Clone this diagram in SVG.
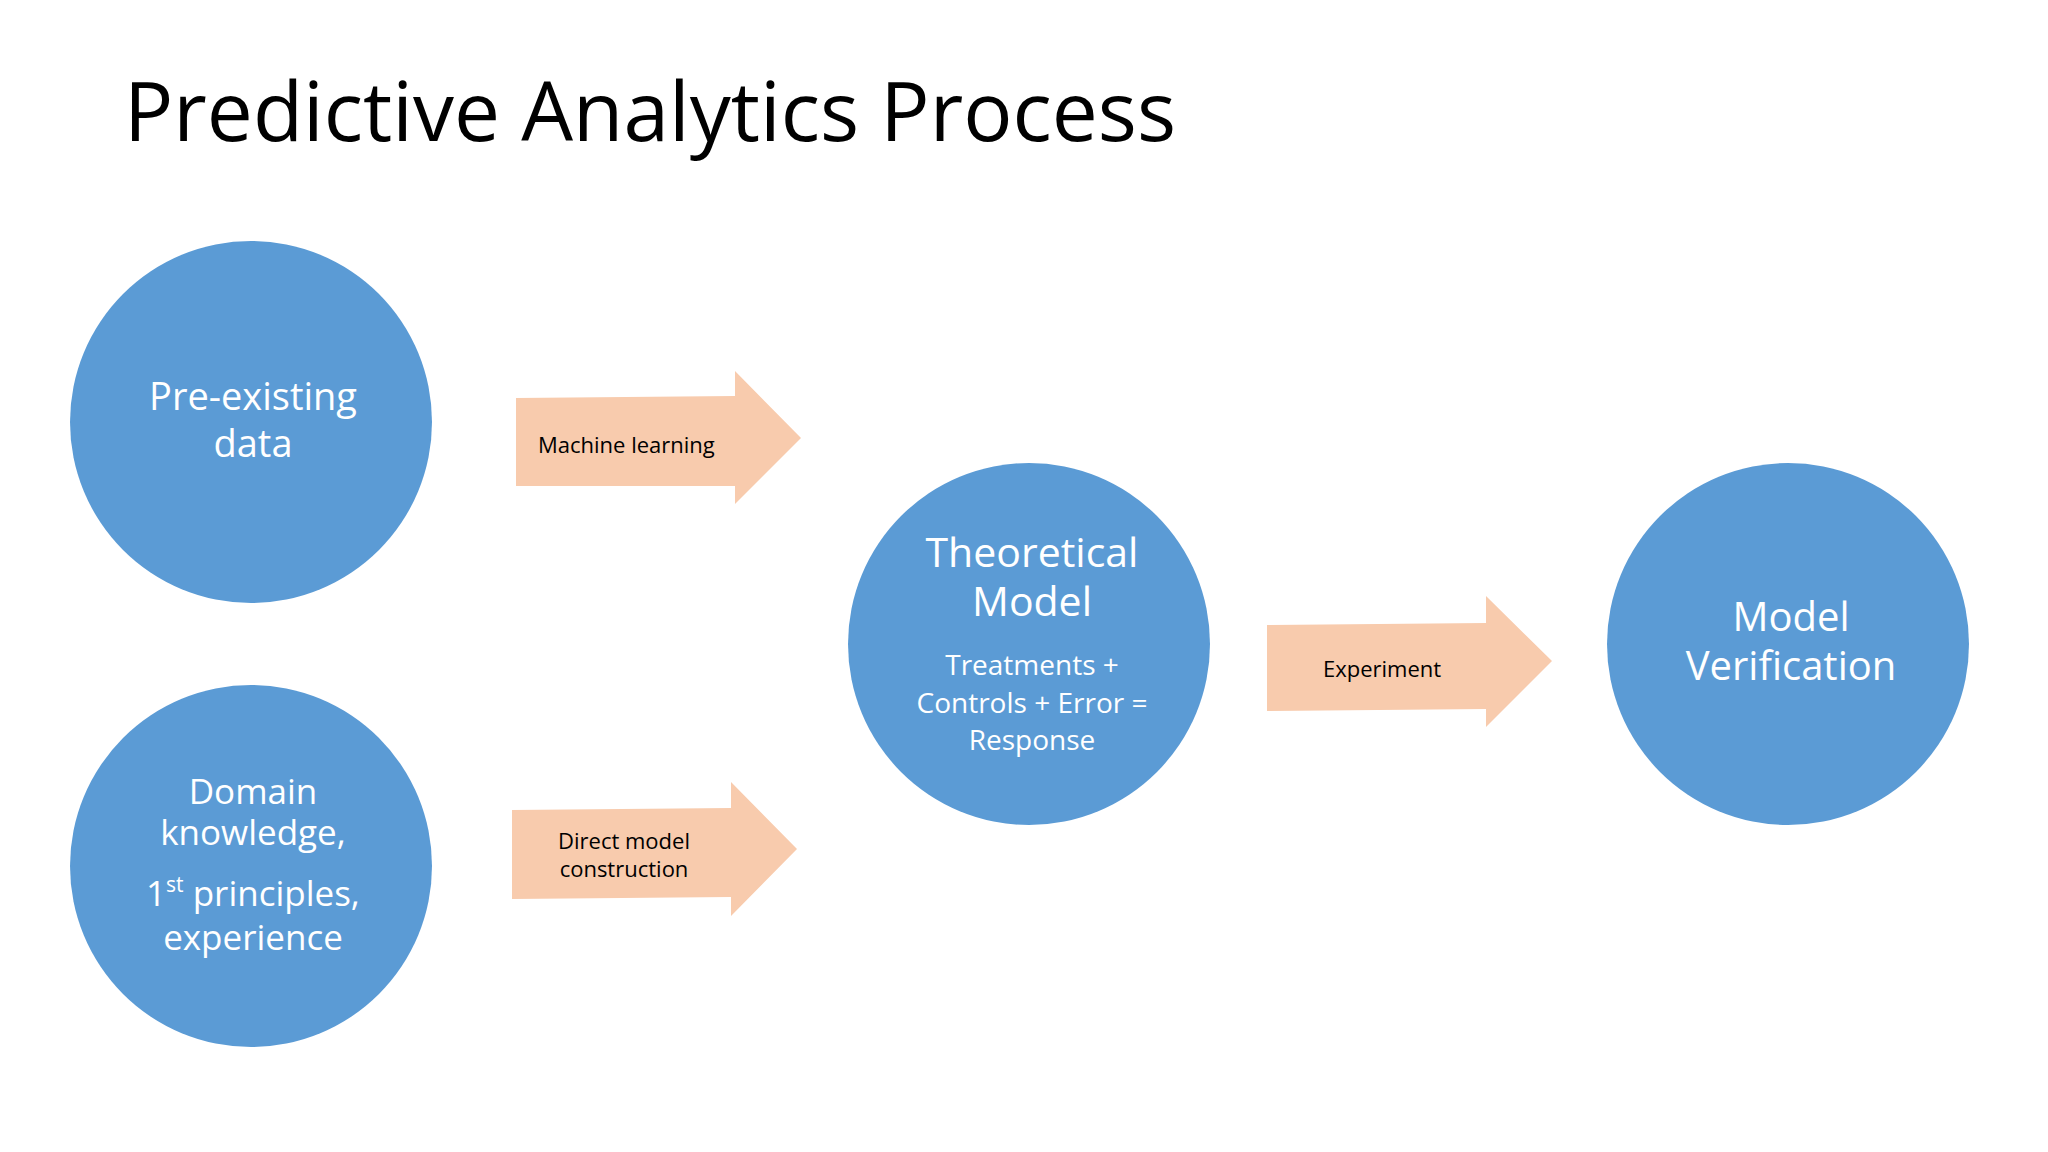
<svg xmlns="http://www.w3.org/2000/svg" width="2048" height="1152" viewBox="0 0 2048 1152">
<style>
text{font-family:"Open Sans","Noto Sans","Liberation Sans",sans-serif}
.c{fill:#5B9BD5}
.a{fill:#F8CBAD}
.w{fill:#fff;text-anchor:middle}
.k{fill:#000;font-size:22px}
</style>
<rect width="2048" height="1152" fill="#fff"/>
<text x="124" y="141" font-size="82" fill="#000">Predictive Analytics Process</text>
<g id="connectors">
<g id="arrow-ml"><polygon class="a" points="516,398 735,396 735,371 801,438 735,504 735,486 516,486"/><text class="k" x="538" y="453">Machine learning</text></g>
<g id="arrow-direct"><polygon class="a" points="512,810 731,808 731,782 797,849 731,916 731,897 512,899"/><text class="k" x="624" y="849" text-anchor="middle">Direct model</text><text class="k" x="624" y="877" text-anchor="middle">construction</text></g>
<g id="arrow-exp"><polygon class="a" points="1267,625 1486,623 1486,596 1552,661 1486,727 1486,709 1267,711"/><text class="k" x="1323" y="677">Experiment</text></g>
</g>
<g id="pre-existing"><circle class="c" cx="251" cy="422" r="181"/><text class="w" x="253" y="410" font-size="38">Pre-existing</text><text class="w" x="253" y="457" font-size="38">data</text></g>
<g id="domain"><circle class="c" cx="251" cy="866" r="181"/>
<text class="w" x="253" y="804" font-size="35">Domain</text><text class="w" x="253" y="845" font-size="35">knowledge,</text>
<text class="w" x="253" y="906" font-size="35">1<tspan font-size="21" dy="-14">st</tspan><tspan dy="14"> principles,</tspan></text>
<text class="w" x="253" y="950" font-size="35">experience</text></g>
<g id="theoretical"><circle class="c" cx="1029" cy="644" r="181"/>
<text class="w" x="1032" y="567" font-size="41">Theoretical</text><text class="w" x="1032" y="616" font-size="41">Model</text>
<text class="w" x="1032" y="675" font-size="28">Treatments +</text><text class="w" x="1032" y="713" font-size="28">Controls + Error =</text><text class="w" x="1032" y="750" font-size="28">Response</text></g>
<g id="verification"><circle class="c" cx="1788" cy="644" r="181"/>
<text class="w" x="1791" y="631" font-size="40">Model</text><text class="w" x="1791" y="680" font-size="40">Verification</text></g>
</svg>
